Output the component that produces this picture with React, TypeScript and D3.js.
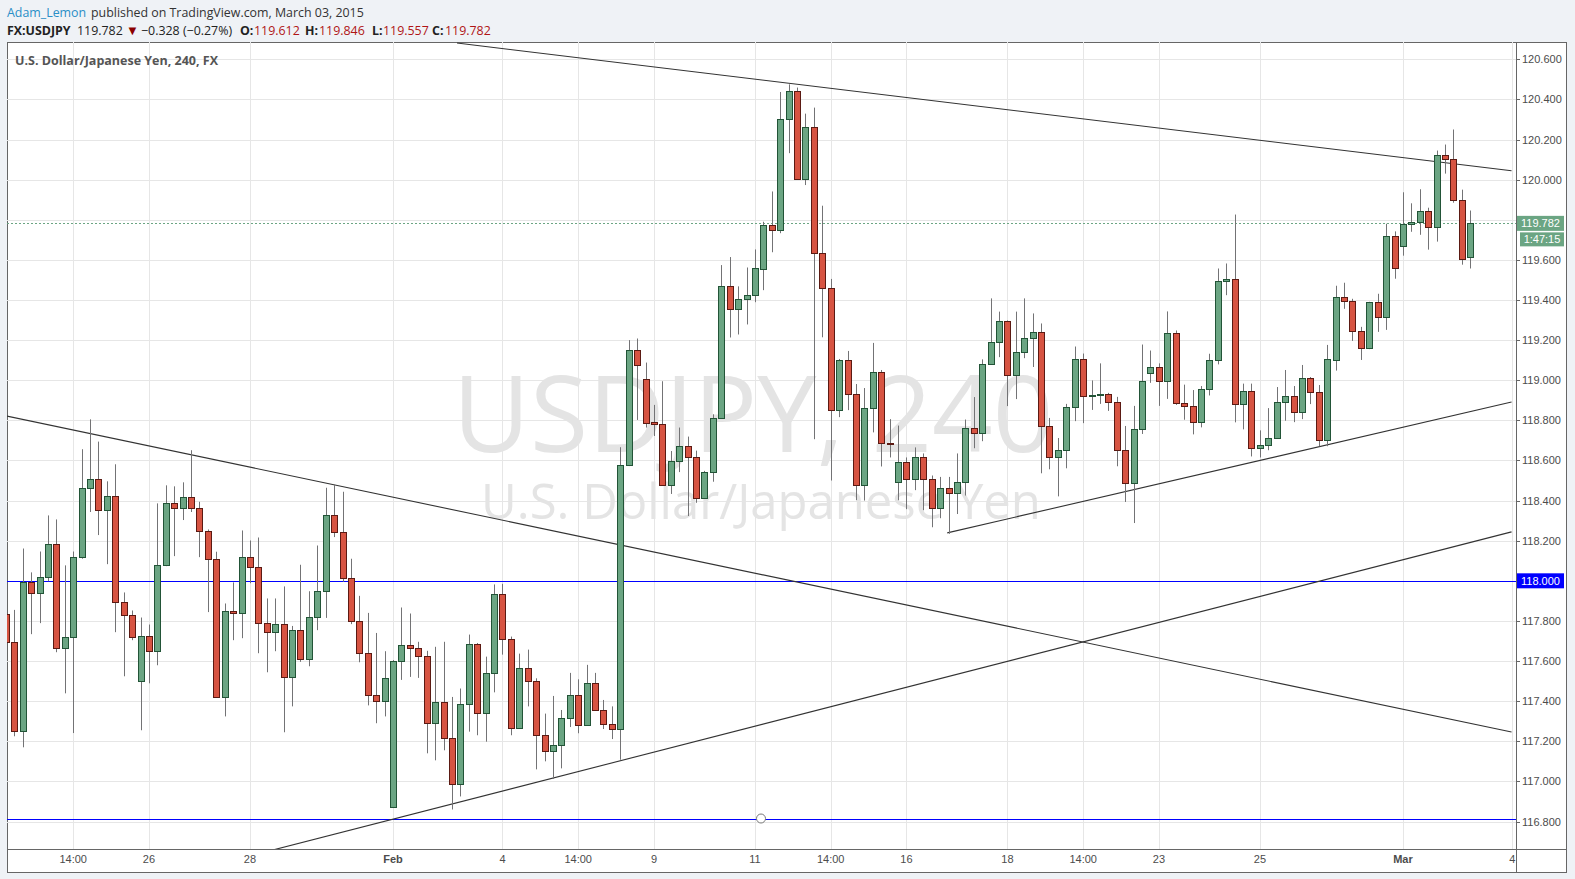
import React from "react";
import * as d3 from "d3";

const opens = [
  117.835, 117.696, 117.251, 117.995, 117.94, 118.02, 118.185, 117.666, 117.72, 118.12,
  118.464, 118.509, 118.354, 118.424, 117.895, 117.83, 117.501, 117.725, 117.651, 118.078,
  118.389, 118.364, 118.419, 118.364, 118.25, 118.11, 117.421, 117.85, 117.84, 118.12,
  118.07, 117.79, 117.745, 117.785, 117.521, 117.755, 117.611, 117.82, 117.95, 118.329,
  118.245, 118.015, 117.8, 117.641, 117.431, 117.401, 116.872, 117.601, 117.681, 117.666,
  117.626, 117.291, 117.396, 117.216, 116.987, 117.386, 117.686, 117.339, 117.541, 117.935,
  117.71, 117.266, 117.566, 117.501, 117.231, 117.151, 117.181, 117.316, 117.431, 117.281,
  117.491, 117.356, 117.286, 117.261, 118.579, 119.153, 119.008, 118.79, 118.783, 118.479,
  118.599, 118.674, 118.619, 118.414, 118.544, 118.814, 119.468, 119.353, 119.403, 119.423,
  119.555, 119.775, 119.75, 120.304, 120.444, 120.004, 120.264, 119.635, 119.46, 118.851,
  119.101, 118.931, 118.477, 118.861, 119.041, 118.687, 118.492, 118.59, 118.508, 118.618,
  118.508, 118.363, 118.463, 118.438, 118.493, 118.763, 118.736, 119.082, 119.189, 119.297,
  119.027, 119.142, 119.212, 119.242, 118.772, 118.618, 118.653, 118.867, 119.107, 118.922,
  118.927, 118.932, 118.892, 118.653, 118.488, 118.757, 119.037, 119.067, 118.997, 119.233,
  118.886, 118.871, 118.791, 118.956, 119.101, 119.495, 119.505, 118.881, 118.946, 118.662,
  118.677, 118.711, 118.891, 118.921, 118.841, 119.011, 118.941, 118.701, 119.101, 119.416,
  119.396, 119.246, 119.161, 119.391, 119.316, 119.72, 119.671, 119.78, 119.79, 119.845,
  119.765, 120.125, 120.105, 119.9, 119.612,
];
const highs = [
  117.86, 117.855, 118.161, 118.042, 118.146, 118.326, 118.306, 118.077, 118.146, 118.656,
  118.805, 118.694, 118.496, 118.581, 117.942, 117.852, 117.817, 117.782, 118.386, 118.476,
  118.471, 118.491, 118.651, 118.394, 118.256, 118.145, 117.887, 117.992, 118.251, 118.201,
  118.216, 117.912, 117.912, 117.972, 117.775, 118.08, 117.948, 118.176, 118.464, 118.479,
  118.444, 118.11, 117.925, 117.84, 117.74, 117.649, 117.605, 117.867, 117.837, 117.696,
  117.651, 117.671, 117.696, 117.421, 117.463, 117.732, 117.69, 117.622, 117.982, 117.985,
  117.722, 117.637, 117.657, 117.514, 117.338, 117.426, 117.356, 117.541, 117.509, 117.581,
  117.541, 117.406, 117.374, 118.666, 119.2, 119.208, 119.088, 118.877, 118.995, 118.647,
  118.764, 118.719, 118.649, 118.548, 118.83, 119.574, 119.614, 119.468, 119.562, 119.652,
  119.79, 119.941, 120.437, 120.475, 120.459, 120.329, 120.359, 119.87, 119.505, 119.106,
  119.146, 118.981, 118.961, 119.186, 119.051, 118.806, 118.774, 118.615, 118.665, 118.635,
  118.525, 118.518, 118.518, 118.635, 118.804, 118.916, 119.104, 119.408, 119.342, 119.298,
  119.342, 119.408, 119.333, 119.283, 118.812, 118.712, 118.882, 119.168, 119.133, 118.999,
  119.084, 118.937, 118.917, 118.772, 118.872, 119.178, 119.148, 119.084, 119.343, 119.248,
  118.978, 118.951, 118.971, 119.132, 119.557, 119.582, 119.826, 118.983, 118.983, 118.75,
  118.861, 118.966, 119.051, 118.971, 119.076, 119.016, 118.976, 119.176, 119.471, 119.486,
  119.406, 119.266, 119.391, 119.431, 119.78, 119.742, 119.937, 119.882, 119.952, 119.86,
  120.145, 120.175, 120.25, 119.95, 119.846,
];
const lows = [
  117.67, 117.225, 117.17, 117.734, 117.789, 117.998, 117.644, 117.439, 117.241, 118.11,
  118.343, 118.228, 118.083, 117.744, 117.524, 117.704, 117.255, 117.489, 117.579, 118.073,
  118.123, 118.303, 118.343, 118.118, 117.844, 117.416, 117.324, 117.704, 117.714, 117.988,
  117.639, 117.544, 117.649, 117.245, 117.374, 117.596, 117.574, 117.754, 117.815, 118.218,
  117.995, 117.784, 117.594, 117.379, 117.29, 117.324, 116.868, 117.506, 117.521, 117.516,
  117.14, 117.105, 117.155, 116.86, 116.925, 117.248, 117.23, 117.198, 117.444, 117.632,
  117.23, 117.262, 117.374, 117.06, 117.1, 117.012, 117.065, 117.271, 117.24, 117.278,
  117.352, 117.261, 117.211, 117.108, 118.572, 118.802, 118.764, 118.722, 118.476, 118.433,
  118.542, 118.323, 118.389, 118.41, 118.494, 118.812, 119.213, 119.228, 119.278, 119.389,
  119.449, 119.638, 119.733, 120.132, 120.004, 119.973, 118.706, 119.214, 118.5, 118.816,
  118.851, 118.402, 118.4, 118.74, 118.57, 118.615, 118.402, 118.357, 118.452, 118.352,
  118.267, 118.312, 118.234, 118.333, 118.425, 118.661, 118.696, 119.078, 119.115, 118.871,
  118.906, 119.11, 119.066, 118.536, 118.556, 118.421, 118.561, 118.796, 118.786, 118.852,
  118.882, 118.847, 118.571, 118.393, 118.288, 118.732, 118.987, 118.872, 118.907, 118.877,
  118.803, 118.73, 118.765, 118.924, 119.079, 119.424, 118.79, 118.755, 118.62, 118.615,
  118.651, 118.708, 118.798, 118.791, 118.806, 118.881, 118.671, 118.671, 119.048, 119.356,
  119.196, 119.101, 119.155, 119.241, 119.251, 119.506, 119.621, 119.74, 119.725, 119.651,
  119.691, 120.03, 119.885, 119.576, 119.557,
];
const closes = [
  117.696, 117.251, 117.995, 117.94, 118.02, 118.185, 117.666, 117.72, 118.12, 118.464,
  118.509, 118.354, 118.424, 117.895, 117.83, 117.72, 117.725, 117.651, 118.08, 118.389,
  118.364, 118.419, 118.364, 118.25, 118.11, 117.421, 117.85, 117.84, 118.12, 118.07,
  117.79, 117.745, 117.785, 117.521, 117.755, 117.611, 117.82, 117.95, 118.329, 118.245,
  118.015, 117.8, 117.641, 117.431, 117.401, 117.516, 117.601, 117.681, 117.666, 117.626,
  117.291, 117.396, 117.216, 116.987, 117.386, 117.686, 117.339, 117.541, 117.935, 117.71,
  117.266, 117.566, 117.501, 117.231, 117.151, 117.181, 117.316, 117.431, 117.281, 117.491,
  117.356, 117.286, 117.261, 118.579, 119.153, 119.078, 118.789, 118.783, 118.479, 118.599,
  118.674, 118.619, 118.414, 118.544, 118.814, 119.468, 119.353, 119.403, 119.423, 119.557,
  119.775, 119.75, 120.304, 120.444, 120.004, 120.264, 119.635, 119.46, 118.851, 119.101,
  118.931, 118.477, 118.861, 119.041, 118.687, 118.682, 118.59, 118.508, 118.618, 118.508,
  118.363, 118.463, 118.438, 118.493, 118.763, 118.736, 119.082, 119.189, 119.297, 119.027,
  119.142, 119.212, 119.242, 118.772, 118.618, 118.653, 118.867, 119.107, 118.922, 118.927,
  118.932, 118.892, 118.653, 118.488, 118.757, 118.997, 119.067, 118.997, 119.233, 118.887,
  118.871, 118.791, 118.956, 119.101, 119.495, 119.505, 118.881, 118.946, 118.662, 118.677,
  118.711, 118.891, 118.921, 118.841, 119.011, 118.941, 118.701, 119.106, 119.416, 119.396,
  119.246, 119.161, 119.391, 119.316, 119.72, 119.561, 119.78, 119.79, 119.845, 119.765,
  120.125, 120.105, 119.9, 119.606, 119.782,
];

const timeLabels = ["14:00", "26", "28", "Feb", "4", "14:00", "9", "11", "14:00", "16", "18", "14:00", "23", "25", "Mar", "4"];
const timeLabelIndex = [8, 17, 29, 46, 59, 68, 77, 89, 98, 107, 119, 128, 137, 149, 166, 179];
const monthLabels = ["Feb", "Mar"];

const priceTicks = [116.8, 117.0, 117.2, 117.4, 117.6, 117.8, 118.0, 118.2, 118.4, 118.6, 118.8, 119.0, 119.2, 119.4, 119.6, 119.8, 120.0, 120.2, 120.4, 120.6];

// trend lines: start/end in (candle index, price)
const trendStartIndex = [53.6, 0.13, 31.9, 111.85];
const trendStartPrice = [120.681, 118.821, 116.66, 118.239];
const trendEndIndex = [178.9, 178.9, 178.9, 178.9];
const trendEndPrice = [120.044, 117.246, 118.244, 118.891];

const horizontalLevels = [118.0, 116.815];
const lastPrice = 119.782;
const countdown = "1:47:15";

const W = 1575;
const H = 879;
const PL = 7, PT = 42, PR = 1516, PB = 849;

const UP = "#6ba583", UP_B = "#225437", DN = "#d75442", DN_B = "#5b1a13";

export default function App() {
  const x = d3.scaleLinear().domain([0, 174]).range([5.9, 1470.3]);
  const y = d3.scaleLinear().domain([117, 120.4]).range([781.4, 99.4]);
  const fmt = d3.format(".3f");
  const axisFont = "Liberation Sans, Arial, sans-serif";
  const hdrFont = "'Open Sans', sans-serif";
  const hs = 12.4;

  return (
    <div style={{ position: "absolute", left: 0, top: 0, width: W, height: H }}>
      <svg width={W} height={H} style={{ display: "block" }}>
        <defs>
          <clipPath id="plotclip">
            <rect x={PL} y={PT} width={PR - PL} height={PB - PT} />
          </clipPath>
        </defs>
        <rect x={0} y={0} width={W} height={H} fill="#eff2f6" />
        <rect x={PL + 0.5} y={PT + 0.5} width={1566 - PL} height={872 - PT} fill="#ffffff" stroke="#666" />

        {/* header */}
        <text x={7} y={17} fontFamily={hdrFont} fontSize={hs} fill="#2a8ec7">Adam_Lemon</text>
        <text x={91} y={17} fontFamily={hdrFont} fontSize={hs} fill="#333">published on TradingView.com, March 03, 2015</text>
        <g fontFamily={hdrFont} fontSize={hs}>
          <text x={7} y={35} fontWeight="bold" fill="#222">FX:USDJPY</text>
          <text x={77} y={35} fill="#222">{fmt(lastPrice)}</text>
          <text x={126} y={35} fill="#8b0000" fontSize={13}>▼</text>
          <text x={141} y={35} fill="#222">−0.328 (−0.27%)</text>
          <text x={240} y={35} fontWeight="bold" fill="#222">O:</text>
          <text x={254} y={35} fill="#b01515">{fmt(opens[174])}</text>
          <text x={305} y={35} fontWeight="bold" fill="#222">H:</text>
          <text x={319} y={35} fill="#b01515">{fmt(highs[174])}</text>
          <text x={372} y={35} fontWeight="bold" fill="#222">L:</text>
          <text x={383} y={35} fill="#b01515">{fmt(lows[174])}</text>
          <text x={432} y={35} fontWeight="bold" fill="#222">C:</text>
          <text x={445} y={35} fill="#b01515">{fmt(closes[174])}</text>
        </g>

        <g clipPath="url(#plotclip)">
          {/* grid */}
          {priceTicks.map((p) => (
            <line key={"h" + p} x1={PL} x2={PR} y1={Math.round(y(p)) + 0.5} y2={Math.round(y(p)) + 0.5} stroke="#e6e6e6" />
          ))}
          {timeLabelIndex.map((ti, k) => (
            <line key={"v" + k} x1={Math.round(x(ti)) + 0.5} x2={Math.round(x(ti)) + 0.5} y1={PT} y2={PB} stroke="#e6e6e6" />
          ))}

          {/* watermark */}
          <text x={753} y={452} textAnchor="middle" fontFamily={hdrFont} fontSize={106} fill="#e4e4e4">USDJPY, 240</text>
          <text x={761} y={519} textAnchor="middle" fontFamily={hdrFont} fontSize={49} fill="#e4e4e4">U.S. Dollar/Japanese Yen</text>

          {/* title */}
          <text x={15} y={65} fontFamily={hdrFont} fontSize={12.5} fontWeight="bold" fill="#555">U.S. Dollar/Japanese Yen, 240, FX</text>

          {/* horizontal levels */}
          {horizontalLevels.map((p, k) => (
            <line key={"hl" + k} x1={PL} x2={PR} y1={Math.round(y(p)) + 0.5} y2={Math.round(y(p)) + 0.5} stroke="#0000ff" />
          ))}
          <line x1={PL} x2={PR} y1={Math.round(y(lastPrice)) + 0.5} y2={Math.round(y(lastPrice)) + 0.5} stroke={UP} strokeDasharray="2,2" />

          {/* trend lines */}
          {trendStartIndex.map((si, k) => (
            <line key={"t" + k} x1={x(si)} y1={y(trendStartPrice[k])} x2={x(trendEndIndex[k])} y2={y(trendEndPrice[k])} stroke="#333" strokeWidth={1.1} />
          ))}

          {/* candles */}
          {opens.map((o, i) => {
            const c = closes[i];
            const up = c >= o;
            const cx = Math.round(x(i));
            const top = Math.round(y(Math.max(o, c))) + 0.5;
            let bot = Math.round(y(Math.min(o, c))) + 0.5;
            if (bot - top < 1) bot = top + 1;
            return (
              <g key={i}>
                <line x1={cx + 0.5} x2={cx + 0.5} y1={y(highs[i])} y2={y(lows[i])} stroke="#737375" />
                <rect x={cx - 2.5} y={top} width={6} height={bot - top} fill={up ? UP : DN} stroke={up ? UP_B : DN_B} />
              </g>
            );
          })}

          <circle cx={761} cy={y(horizontalLevels[1])} r={4.5} fill="#fff" stroke="#777" />
        </g>

        {/* plot borders */}
        <line x1={PR + 0.5} x2={PR + 0.5} y1={PT} y2={872} stroke="#666" />
        <line x1={PL} x2={1566} y1={PB + 0.5} y2={PB + 0.5} stroke="#666" />

        {/* price axis */}
        <g fontFamily={axisFont} fontSize={11} fill="#4c4c4c">
          {priceTicks.map((p) => (
            <g key={"pt" + p}>
              <line x1={PR} x2={PR + 4} y1={Math.round(y(p)) + 0.5} y2={Math.round(y(p)) + 0.5} stroke="#666" />
              <text x={PR + 6} y={y(p)} dominantBaseline="central">{fmt(p)}</text>
            </g>
          ))}
        </g>
        {/* last price labels */}
        <rect x={PR + 1} y={y(lastPrice) - 7.5} width={47} height={15} fill={UP} />
        <text x={PR + 5} y={y(lastPrice)} dominantBaseline="central" fontFamily={axisFont} fontSize={11} fill="#fff">{fmt(lastPrice)}</text>
        <rect x={PR + 4} y={y(lastPrice) + 9} width={44} height={14} fill={UP} />
        <text x={PR + 26} y={y(lastPrice) + 16} textAnchor="middle" dominantBaseline="central" fontFamily={axisFont} fontSize={11} fill="#fff">{countdown}</text>
        <rect x={PR + 1} y={y(horizontalLevels[0]) - 7.5} width={47} height={15} fill="#0000ff" />
        <text x={PR + 5} y={y(horizontalLevels[0])} dominantBaseline="central" fontFamily={axisFont} fontSize={11} fill="#fff">{fmt(horizontalLevels[0])}</text>

        {/* time axis */}
        <g fontFamily={axisFont} fontSize={11} fill="#4c4c4c">
          {timeLabels.map((t, k) => (
            <text key={"tl" + k} x={x(timeLabelIndex[k])} y={863} textAnchor="middle" fontWeight={monthLabels.includes(t) ? "bold" : "normal"}>{t}</text>
          ))}
        </g>
      </svg>
    </div>
  );
}
